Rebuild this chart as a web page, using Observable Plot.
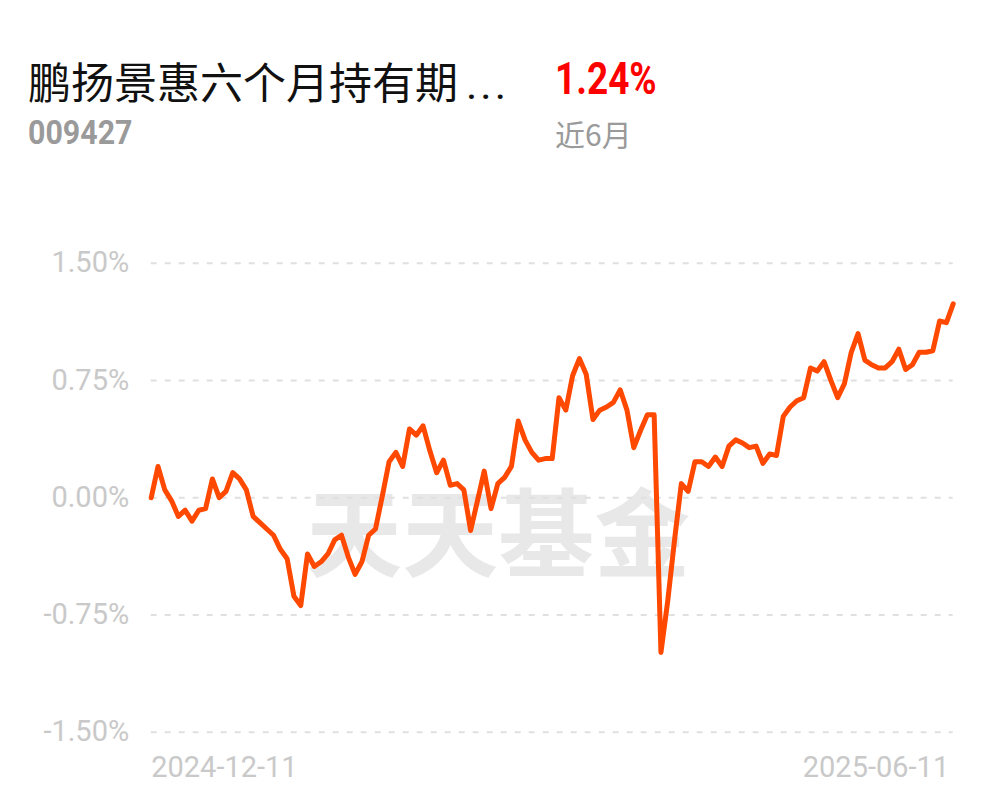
<!DOCTYPE html>
<html>
<head>
<meta charset="utf-8">
<script src="https://cdn.jsdelivr.net/npm/d3@7"></script>
<script src="https://cdn.jsdelivr.net/npm/@observablehq/plot@0.6"></script>
<style>
  html, body { margin: 0; padding: 0; background: #fff; }
  #page { position: relative; width: 997px; height: 802px; overflow: hidden; background: #fff; }
  .abs { position: absolute; white-space: nowrap; }
  #title { left: 28px; top: 56px; font: 400 43px "Noto Sans CJK SC", sans-serif; line-height: 48px; color: #111; }
  #title .dots { font-family: Roboto, sans-serif; letter-spacing: 3px; margin-left: 8px; }
  #pct { left: 555px; top: 55px; font: 700 44px Roboto, sans-serif; line-height: 48px; color: #f00; transform: scaleX(0.84); transform-origin: left top; }
  #code { left: 28px; top: 114px; font: 700 33px Roboto, sans-serif; line-height: 38px; color: #9a9a9a; transform: scaleX(0.92); transform-origin: left top; }
  #period { left: 555px; top: 114px; font: 400 30px "Noto Sans CJK SC", sans-serif; line-height: 38px; color: #9a9a9a; }
  #chart { position: absolute; left: 0; top: 220px; }
</style>
</head>
<body>
<div id="page">
  <div class="abs" id="title"><span id="name"></span><span class="dots" id="dots"></span></div>
  <div class="abs" id="pct"></div>
  <div class="abs" id="code"></div>
  <div class="abs" id="period"></div>
  <div id="chart"></div>
</div>
<script>
const fundName = "鹏扬景惠六个月持有期";
const ellipsis = "...";
const fundCode = "009427";
const periodReturn = "1.24%";
const periodLabel = "近6月";
const watermark = "天天基金";
const dateLabels = ["2024-12-11", "2025-06-11"];
const yTicks = [-1.5, -0.75, 0, 0.75, 1.5];
// cumulative return (%) per trading day
const returns = [
  0.00, 0.20, 0.05, -0.02, -0.12, -0.08, -0.15, -0.08, -0.07, 0.12,
  0.00, 0.04, 0.16, 0.12, 0.05, -0.12, -0.16, -0.20, -0.24, -0.33,
  -0.39, -0.63, -0.69, -0.36, -0.44, -0.41, -0.36, -0.27, -0.24, -0.38,
  -0.49, -0.41, -0.24, -0.20, 0.01, 0.23, 0.29, 0.20, 0.44, 0.40,
  0.46, 0.30, 0.16, 0.24, 0.08, 0.09, 0.05, -0.21, -0.02, 0.17,
  -0.07, 0.09, 0.13, 0.20, 0.49, 0.37, 0.29, 0.24, 0.25, 0.25,
  0.64, 0.56, 0.78, 0.89, 0.79, 0.50, 0.56, 0.58, 0.61, 0.69,
  0.56, 0.32, 0.43, 0.53, 0.53, -0.99, -0.66, -0.27, 0.09, 0.04,
  0.23, 0.23, 0.20, 0.26, 0.20, 0.33, 0.37, 0.35, 0.32, 0.33,
  0.22, 0.28, 0.27, 0.52, 0.58, 0.62, 0.64, 0.83, 0.81, 0.87,
  0.75, 0.64, 0.73, 0.93, 1.05, 0.88, 0.85, 0.83, 0.83, 0.87,
  0.95, 0.82, 0.85, 0.93, 0.93, 0.94, 1.13, 1.12, 1.24
];

document.getElementById("name").textContent = fundName;
document.getElementById("dots").textContent = ellipsis;
document.getElementById("pct").textContent = periodReturn;
document.getElementById("code").textContent = fundCode;
document.getElementById("period").textContent = periodLabel;

const data = returns.map((v, i) => ({i, v}));
const last = returns.length - 1;
const labelStyle = {tickSize: 0, fontSize: 29, fill: "#c9c9c9", label: null};

const chart = Plot.plot({
  width: 997,
  height: 582,
  marginLeft: 150.7,
  marginRight: 44.3,
  marginTop: 42.7,
  marginBottom: 70.3,
  style: {fontFamily: "Roboto, sans-serif", background: "#fff", overflow: "visible"},
  x: {domain: [0, last], axis: null},
  y: {domain: [-1.5, 1.5], axis: null},
  marks: [
    Plot.text([watermark], {text: d => d, frameAnchor: "middle", dx: -54, dy: 41, fontSize: 96, fontWeight: 700, fill: "#e8e8e8", fontFamily: "Noto Sans CJK SC"}),
    Plot.ruleY(yTicks, {stroke: "#e0e0e0", strokeWidth: 2, strokeDasharray: "6,8"}),
    Plot.axisY({...labelStyle, ticks: yTicks, tickPadding: 22, tickFormat: d => d.toFixed(2) + "%"}),
    Plot.axisX({...labelStyle, ticks: [0], tickPadding: 24, textAnchor: "start", tickFormat: () => dateLabels[0]}),
    Plot.axisX({...labelStyle, ticks: [last], tickPadding: 24, textAnchor: "end", dx: -4, tickFormat: () => dateLabels[1]}),
    Plot.line(data, {x: "i", y: "v", stroke: "#ff4800", strokeWidth: 5, strokeLinejoin: "round", strokeLinecap: "round"})
  ]
});
document.getElementById("chart").appendChild(chart);
</script>
</body>
</html>
